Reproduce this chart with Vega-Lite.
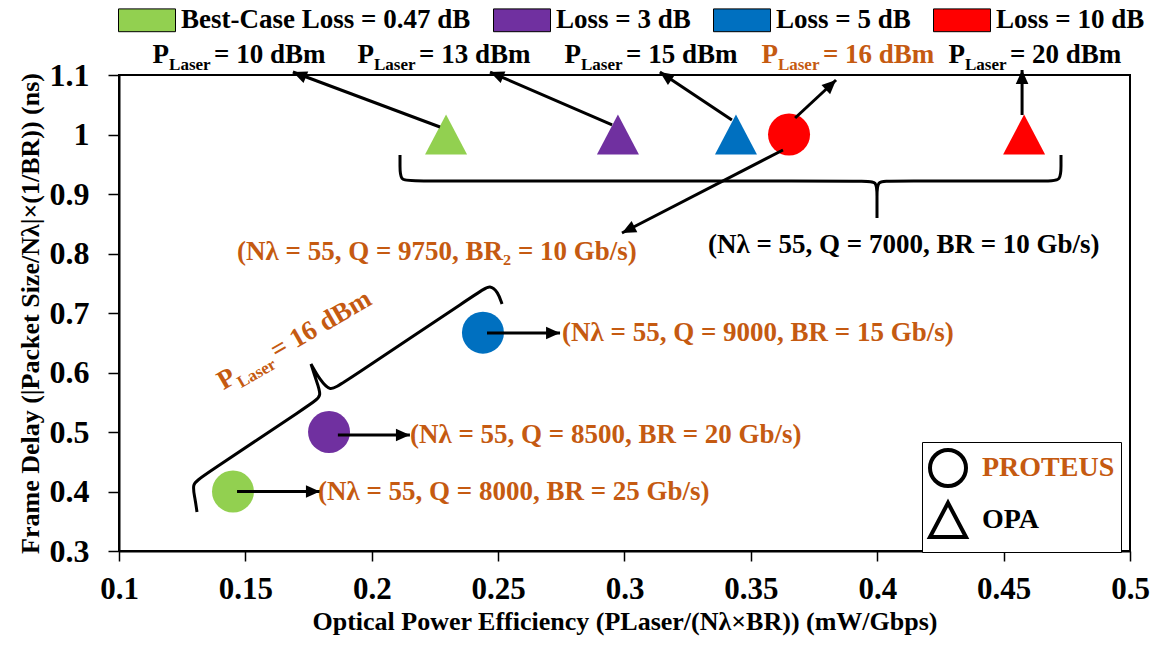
{
  "$schema": "https://vega.github.io/schema/vega-lite/v6.json",
  "width": 1011,
  "height": 476,
  "autosize": {"type": "none"},
  "padding": {"left": 119, "top": 75, "right": 33, "bottom": 95},
  "background": "white",
  "config": {
    "font": "Liberation Serif",
    "view": {"stroke": "black", "strokeWidth": 2},
    "axis": {"grid": false, "domainColor": "black", "domainWidth": 2, "tickColor": "black", "tickWidth": 1.5, "tickSize": 10,
      "labelFont": "Liberation Serif", "labelFontWeight": "bold", "labelFontSize": 30, "labelColor": "black",
      "titleFont": "Liberation Serif", "titleFontWeight": "bold", "titleFontSize": 26, "titleColor": "black"},
    "text": {"font": "Liberation Serif", "fontWeight": "bold"}
  },
  "datasets": {
    "points": [
      {"system": "OPA", "loss": "Best-Case Loss = 0.47 dB", "x": 0.2294, "y": 1},
      {"system": "OPA", "loss": "Loss = 3 dB", "x": 0.2974, "y": 1},
      {"system": "OPA", "loss": "Loss = 5 dB", "x": 0.3441, "y": 1},
      {"system": "OPA", "loss": "Loss = 10 dB", "x": 0.4581, "y": 1},
      {"system": "PROTEUS", "loss": "Loss = 10 dB", "x": 0.3651, "y": 1},
      {"system": "PROTEUS", "loss": "Best-Case Loss = 0.47 dB", "x": 0.1451, "y": 0.4},
      {"system": "PROTEUS", "loss": "Loss = 3 dB", "x": 0.1831, "y": 0.5},
      {"system": "PROTEUS", "loss": "Loss = 5 dB", "x": 0.2440, "y": 0.667}
    ],
    "arrows": [
      {"id": "a1", "x": 0.2270, "y": 1.0126, "x2": 0.1688, "y2": 1.105},
      {"id": "a2", "x": 0.2951, "y": 1.016, "x2": 0.2468, "y2": 1.105},
      {"id": "a3", "x": 0.3425, "y": 1.0244, "x2": 0.3140, "y2": 1.105},
      {"id": "a4", "x": 0.3675, "y": 1.0277, "x2": 0.3837, "y2": 1.0916},
      {"id": "a5", "x": 0.4573, "y": 1.0328, "x2": 0.4573, "y2": 1.1084},
      {"id": "a6", "x": 0.3627, "y": 0.974, "x2": 0.2990, "y2": 0.8345},
      {"id": "a7", "x": 0.1467, "y": 0.4, "x2": 0.1795, "y2": 0.4},
      {"id": "a8", "x": 0.1866, "y": 0.495, "x2": 0.2151, "y2": 0.495},
      {"id": "a9", "x": 0.2456, "y": 0.6664, "x2": 0.2745, "y2": 0.6664}
    ],
    "braces": [
      {"brace": "b1", "i": 1, "x": 0.21118, "y": 0.96555},
      {"brace": "b1", "i": 2, "x": 0.21118, "y": 0.94874},
      {"brace": "b1", "i": 3, "x": 0.21118, "y": 0.92185},
      {"brace": "b1", "i": 4, "x": 0.21592, "y": 0.92185},
      {"brace": "b1", "i": 5, "x": 0.39515, "y": 0.92185},
      {"brace": "b1", "i": 6, "x": 0.39990, "y": 0.92185},
      {"brace": "b1", "i": 7, "x": 0.39990, "y": 0.89832},
      {"brace": "b1", "i": 8, "x": 0.39990, "y": 0.85966},
      {"brace": "b1", "i": 9, "x": 0.39990, "y": 0.85966},
      {"brace": "b1", "i": 10, "x": 0.39990, "y": 0.85966},
      {"brace": "b1", "i": 11, "x": 0.39990, "y": 0.89832},
      {"brace": "b1", "i": 12, "x": 0.39990, "y": 0.92185},
      {"brace": "b1", "i": 13, "x": 0.40465, "y": 0.92185},
      {"brace": "b1", "i": 14, "x": 0.46795, "y": 0.92185},
      {"brace": "b1", "i": 15, "x": 0.47270, "y": 0.92185},
      {"brace": "b1", "i": 16, "x": 0.47270, "y": 0.94874},
      {"brace": "b1", "i": 17, "x": 0.47270, "y": 0.96555},
      {"brace": "b2", "i": 1, "x": 0.13086, "y": 0.36555},
      {"brace": "b2", "i": 2, "x": 0.13007, "y": 0.38908},
      {"brace": "b2", "i": 3, "x": 0.12888, "y": 0.41261},
      {"brace": "b2", "i": 4, "x": 0.13205, "y": 0.42269},
      {"brace": "b2", "i": 5, "x": 0.17715, "y": 0.55042},
      {"brace": "b2", "i": 6, "x": 0.18032, "y": 0.56050},
      {"brace": "b2", "i": 7, "x": 0.17794, "y": 0.58739},
      {"brace": "b2", "i": 8, "x": 0.17596, "y": 0.61429},
      {"brace": "b2", "i": 9, "x": 0.17596, "y": 0.61429},
      {"brace": "b2", "i": 10, "x": 0.17596, "y": 0.61429},
      {"brace": "b2", "i": 11, "x": 0.17953, "y": 0.58739},
      {"brace": "b2", "i": 12, "x": 0.18348, "y": 0.56891},
      {"brace": "b2", "i": 13, "x": 0.18704, "y": 0.57731},
      {"brace": "b2", "i": 14, "x": 0.24362, "y": 0.73866},
      {"brace": "b2", "i": 15, "x": 0.24679, "y": 0.74706},
      {"brace": "b2", "i": 16, "x": 0.24995, "y": 0.73529},
      {"brace": "b2", "i": 17, "x": 0.25154, "y": 0.71513}
    ],
    "notes": [
      {"text": "(Nλ = 55, Q = 7000, BR = 10 Gb/s)", "tone": "opa", "x": 0.3330, "y": 0.8143},
      {"text": "(Nλ = 55, Q = 9750, BR₂ = 10 Gb/s)", "tone": "proteus", "x": 0.1467, "y": 0.8025},
      {"text": "(Nλ = 55, Q = 9000, BR = 15 Gb/s)", "tone": "proteus", "x": 0.2753, "y": 0.6664},
      {"text": "(Nλ = 55, Q = 8500, BR = 20 Gb/s)", "tone": "proteus", "x": 0.2151, "y": 0.495},
      {"text": "(Nλ = 55, Q = 8000, BR = 25 Gb/s)", "tone": "proteus", "x": 0.1787, "y": 0.4}
    ],
    "plabels": [
      {"rest": "= 10 dBm", "tone": "opa", "x": 0.1198, "y": 1.1202},
      {"rest": "= 13 dBm", "tone": "opa", "x": 0.2009, "y": 1.1202},
      {"rest": "= 15 dBm", "tone": "opa", "x": 0.2828, "y": 1.1202},
      {"rest": "= 16 dBm", "tone": "proteus", "x": 0.3607, "y": 1.1202},
      {"rest": "= 20 dBm", "tone": "opa", "x": 0.4347, "y": 1.1202}
    ],
    "protlabel": [
      {"rest": "= 16 dBm", "tone": "proteus", "x": 0.147, "y": 0.5839}
    ]
  },
  "layer": [
    {
      "data": {"name": "points"},
      "mark": {"type": "point", "filled": true, "opacity": 1, "size": 1764, "strokeWidth": 0},
      "encoding": {
        "x": {"field": "x", "type": "quantitative",
          "scale": {"domain": [0.1, 0.5], "nice": false, "zero": false},
          "axis": {"values": [0.1, 0.15, 0.2, 0.25, 0.3, 0.35, 0.4, 0.45, 0.5], "format": "~g",
            "title": "Optical Power Efficiency (PLaser/(Nλ×BR)) (mW/Gbps)",
            "labelFont": "Liberation Serif", "titleFont": "Liberation Serif", "labelFontWeight": "bold", "titleFontWeight": "bold",
            "labelFontSize": 31, "titleFontSize": 26,
            "labelPadding": 13, "titlePadding": 4, "labelFlush": false, "labelOverlap": false}},
        "y": {"field": "y", "type": "quantitative",
          "scale": {"domain": [0.3, 1.1], "nice": false, "zero": false},
          "axis": {"values": [0.3, 0.4, 0.5, 0.6, 0.7, 0.8, 0.9, 1, 1.1], "format": "~g",
            "title": "Frame Delay (|Packet Size/Nλ|×(1/BR)) (ns)",
            "labelFont": "Liberation Serif", "titleFont": "Liberation Serif", "labelFontWeight": "bold", "titleFontWeight": "bold",
            "labelFontSize": 32, "titleFontSize": 26,
            "labelPadding": 19, "titlePadding": 6, "tickSize": 11, "labelOverlap": false}},
        "color": {"field": "loss", "type": "nominal",
          "scale": {"domain": ["Best-Case Loss = 0.47 dB", "Loss = 3 dB", "Loss = 5 dB", "Loss = 10 dB"],
            "range": ["#92D050", "#7030A0", "#0070C0", "#FF0000"]},
          "legend": {"title": null, "orient": "none", "legendX": -1, "legendY": -84, "direction": "horizontal", "columns": 4,
            "symbolType": "M-1,-0.4H1V0.4H-1Z", "symbolSize": 3249, "symbolStrokeColor": "black", "symbolStrokeWidth": 1, "symbolOpacity": 1,
            "labelFont": "Liberation Serif", "labelFontWeight": "bold", "labelFontSize": 27, "labelColor": "black",
            "labelOffset": 5, "columnPadding": 20, "labelLimit": 400, "padding": 0,
            "encode": {"symbols": {"update": {"stroke": {"value": "black"}, "strokeWidth": {"value": 1}}}}}},
        "shape": {"field": "system", "type": "nominal",
          "scale": {"domain": ["PROTEUS", "OPA"], "range": ["circle", "M0,-0.95L1,0.95L-1,0.95Z"]},
          "legend": {"title": null, "orient": "none", "legendX": 803, "legendY": 367, "direction": "vertical",
            "symbolSize": 1296, "symbolFillColor": "white", "symbolStrokeColor": "black", "symbolStrokeWidth": 4,
            "labelFont": "Liberation Serif", "labelFontWeight": "bold", "labelFontSize": 28,
            "labelColor": {"expr": "datum.label === 'PROTEUS' ? '#C55A11' : '#000000'"},
            "labelOffset": 14, "rowPadding": 0, "padding": 6, "strokeColor": "black", "fillColor": "white",
            "encode": {
              "symbols": {"update": {"fill": {"value": "white"}, "stroke": {"value": "black"}, "strokeWidth": {"value": 4}, "opacity": {"value": 1}}},
              "legend": {"update": {"strokeWidth": {"value": 2}}}
            }}}
      }
    },
    {
      "data": {"name": "braces"},
      "mark": {"type": "line", "interpolate": "basis", "color": "black", "strokeWidth": 3},
      "encoding": {
        "x": {"field": "x", "type": "quantitative", "scale": {"domain": [0.1, 0.5], "nice": false, "zero": false}},
        "y": {"field": "y", "type": "quantitative", "scale": {"domain": [0.3, 1.1], "nice": false, "zero": false}},
        "detail": {"field": "brace", "type": "nominal"},
        "order": {"field": "i", "type": "quantitative"}
      }
    },
    {
      "data": {"name": "arrows"},
      "mark": {"type": "rule", "color": "black", "strokeWidth": 3},
      "encoding": {
        "x": {"field": "x", "type": "quantitative", "scale": {"domain": [0.1, 0.5], "nice": false, "zero": false}},
        "y": {"field": "y", "type": "quantitative", "scale": {"domain": [0.3, 1.1], "nice": false, "zero": false}},
        "x2": {"field": "x2"},
        "y2": {"field": "y2"}
      }
    },
    {
      "data": {"name": "arrows"},
      "transform": [{"filter": {"field": "id", "oneOf": ["a7", "a8", "a9"]}}],
      "mark": {"type": "point", "shape": "M0,0L-0.45,1L0.45,1Z", "filled": true, "color": "black", "opacity": 1, "size": 784, "strokeWidth": 0, "angle": 90},
      "encoding": {
        "x": {"field": "x2", "type": "quantitative", "scale": {"domain": [0.1, 0.5], "nice": false, "zero": false}},
        "y": {"field": "y2", "type": "quantitative", "scale": {"domain": [0.3, 1.1], "nice": false, "zero": false}}
      }
    },
    {
      "data": {"name": "arrows"},
      "transform": [{"filter": {"field": "id", "oneOf": ["a5"]}}],
      "mark": {"type": "point", "shape": "M0,0L-0.45,1L0.45,1Z", "filled": true, "color": "black", "opacity": 1, "size": 784, "strokeWidth": 0, "angle": 0},
      "encoding": {
        "x": {"field": "x2", "type": "quantitative", "scale": {"domain": [0.1, 0.5], "nice": false, "zero": false}},
        "y": {"field": "y2", "type": "quantitative", "scale": {"domain": [0.3, 1.1], "nice": false, "zero": false}}
      }
    },
    {
      "data": {"name": "arrows"},
      "transform": [{"filter": {"field": "id", "oneOf": ["a1", "a2"]}}],
      "mark": {"type": "point", "shape": "M0,0L-0.45,1L0.45,1Z", "filled": true, "color": "black", "opacity": 1, "size": 784, "strokeWidth": 0, "angle": 292},
      "encoding": {
        "x": {"field": "x2", "type": "quantitative", "scale": {"domain": [0.1, 0.5], "nice": false, "zero": false}},
        "y": {"field": "y2", "type": "quantitative", "scale": {"domain": [0.3, 1.1], "nice": false, "zero": false}}
      }
    },
    {
      "data": {"name": "arrows"},
      "transform": [{"filter": {"field": "id", "oneOf": ["a3"]}}],
      "mark": {"type": "point", "shape": "M0,0L-0.45,1L0.45,1Z", "filled": true, "color": "black", "opacity": 1, "size": 784, "strokeWidth": 0, "angle": 304},
      "encoding": {
        "x": {"field": "x2", "type": "quantitative", "scale": {"domain": [0.1, 0.5], "nice": false, "zero": false}},
        "y": {"field": "y2", "type": "quantitative", "scale": {"domain": [0.3, 1.1], "nice": false, "zero": false}}
      }
    },
    {
      "data": {"name": "arrows"},
      "transform": [{"filter": {"field": "id", "oneOf": ["a4"]}}],
      "mark": {"type": "point", "shape": "M0,0L-0.45,1L0.45,1Z", "filled": true, "color": "black", "opacity": 1, "size": 784, "strokeWidth": 0, "angle": 47},
      "encoding": {
        "x": {"field": "x2", "type": "quantitative", "scale": {"domain": [0.1, 0.5], "nice": false, "zero": false}},
        "y": {"field": "y2", "type": "quantitative", "scale": {"domain": [0.3, 1.1], "nice": false, "zero": false}}
      }
    },
    {
      "data": {"name": "arrows"},
      "transform": [{"filter": {"field": "id", "oneOf": ["a6"]}}],
      "mark": {"type": "point", "shape": "M0,0L-0.45,1L0.45,1Z", "filled": true, "color": "black", "opacity": 1, "size": 784, "strokeWidth": 0, "angle": 243},
      "encoding": {
        "x": {"field": "x2", "type": "quantitative", "scale": {"domain": [0.1, 0.5], "nice": false, "zero": false}},
        "y": {"field": "y2", "type": "quantitative", "scale": {"domain": [0.3, 1.1], "nice": false, "zero": false}}
      }
    },
    {
      "data": {"name": "notes"},
      "mark": {"type": "text", "align": "left", "baseline": "middle", "fontSize": 27, "font": "Liberation Serif", "fontWeight": "bold"},
      "encoding": {
        "x": {"field": "x", "type": "quantitative", "scale": {"domain": [0.1, 0.5], "nice": false, "zero": false}},
        "y": {"field": "y", "type": "quantitative", "scale": {"domain": [0.3, 1.1], "nice": false, "zero": false}},
        "text": {"field": "text"},
        "fill": {"field": "tone", "type": "nominal", "scale": {"domain": ["proteus", "opa"], "range": ["#C55A11", "#000000"]}, "legend": null}
      }
    },
    {
      "data": {"name": "plabels"},
      "mark": {"type": "text", "align": "right", "baseline": "alphabetic", "fontSize": 27, "font": "Liberation Serif", "fontWeight": "bold"},
      "encoding": {
        "x": {"field": "x", "type": "quantitative", "scale": {"domain": [0.1, 0.5], "nice": false, "zero": false}},
        "y": {"field": "y", "type": "quantitative", "scale": {"domain": [0.3, 1.1], "nice": false, "zero": false}},
        "text": {"value": "P"},
        "fill": {"field": "tone", "type": "nominal", "scale": {"domain": ["proteus", "opa"], "range": ["#C55A11", "#000000"]}, "legend": null}
      }
    },
    {
      "data": {"name": "plabels"},
      "mark": {"type": "text", "align": "left", "baseline": "alphabetic", "fontSize": 17, "dy": 7, "font": "Liberation Serif", "fontWeight": "bold"},
      "encoding": {
        "x": {"field": "x", "type": "quantitative", "scale": {"domain": [0.1, 0.5], "nice": false, "zero": false}},
        "y": {"field": "y", "type": "quantitative", "scale": {"domain": [0.3, 1.1], "nice": false, "zero": false}},
        "text": {"value": "Laser"},
        "fill": {"field": "tone", "type": "nominal", "scale": {"domain": ["proteus", "opa"], "range": ["#C55A11", "#000000"]}, "legend": null}
      }
    },
    {
      "data": {"name": "plabels"},
      "mark": {"type": "text", "align": "left", "baseline": "alphabetic", "fontSize": 27, "dx": 45, "font": "Liberation Serif", "fontWeight": "bold"},
      "encoding": {
        "x": {"field": "x", "type": "quantitative", "scale": {"domain": [0.1, 0.5], "nice": false, "zero": false}},
        "y": {"field": "y", "type": "quantitative", "scale": {"domain": [0.3, 1.1], "nice": false, "zero": false}},
        "text": {"field": "rest"},
        "fill": {"field": "tone", "type": "nominal", "scale": {"domain": ["proteus", "opa"], "range": ["#C55A11", "#000000"]}, "legend": null}
      }
    },
    {
      "data": {"name": "protlabel"},
      "mark": {"type": "text", "align": "right", "baseline": "alphabetic", "fontSize": 27, "angle": 330, "font": "Liberation Serif", "fontWeight": "bold"},
      "encoding": {
        "x": {"field": "x", "type": "quantitative", "scale": {"domain": [0.1, 0.5], "nice": false, "zero": false}},
        "y": {"field": "y", "type": "quantitative", "scale": {"domain": [0.3, 1.1], "nice": false, "zero": false}},
        "text": {"value": "P"},
        "fill": {"field": "tone", "type": "nominal", "scale": {"domain": ["proteus", "opa"], "range": ["#C55A11", "#000000"]}, "legend": null}
      }
    },
    {
      "data": {"name": "protlabel"},
      "mark": {"type": "text", "align": "left", "baseline": "alphabetic", "fontSize": 17, "dy": 7, "angle": 330, "font": "Liberation Serif", "fontWeight": "bold"},
      "encoding": {
        "x": {"field": "x", "type": "quantitative", "scale": {"domain": [0.1, 0.5], "nice": false, "zero": false}},
        "y": {"field": "y", "type": "quantitative", "scale": {"domain": [0.3, 1.1], "nice": false, "zero": false}},
        "text": {"value": "Laser"},
        "fill": {"field": "tone", "type": "nominal", "scale": {"domain": ["proteus", "opa"], "range": ["#C55A11", "#000000"]}, "legend": null}
      }
    },
    {
      "data": {"name": "protlabel"},
      "mark": {"type": "text", "align": "left", "baseline": "alphabetic", "fontSize": 27, "dx": 45, "angle": 330, "font": "Liberation Serif", "fontWeight": "bold"},
      "encoding": {
        "x": {"field": "x", "type": "quantitative", "scale": {"domain": [0.1, 0.5], "nice": false, "zero": false}},
        "y": {"field": "y", "type": "quantitative", "scale": {"domain": [0.3, 1.1], "nice": false, "zero": false}},
        "text": {"field": "rest"},
        "fill": {"field": "tone", "type": "nominal", "scale": {"domain": ["proteus", "opa"], "range": ["#C55A11", "#000000"]}, "legend": null}
      }
    }
  ]
}
